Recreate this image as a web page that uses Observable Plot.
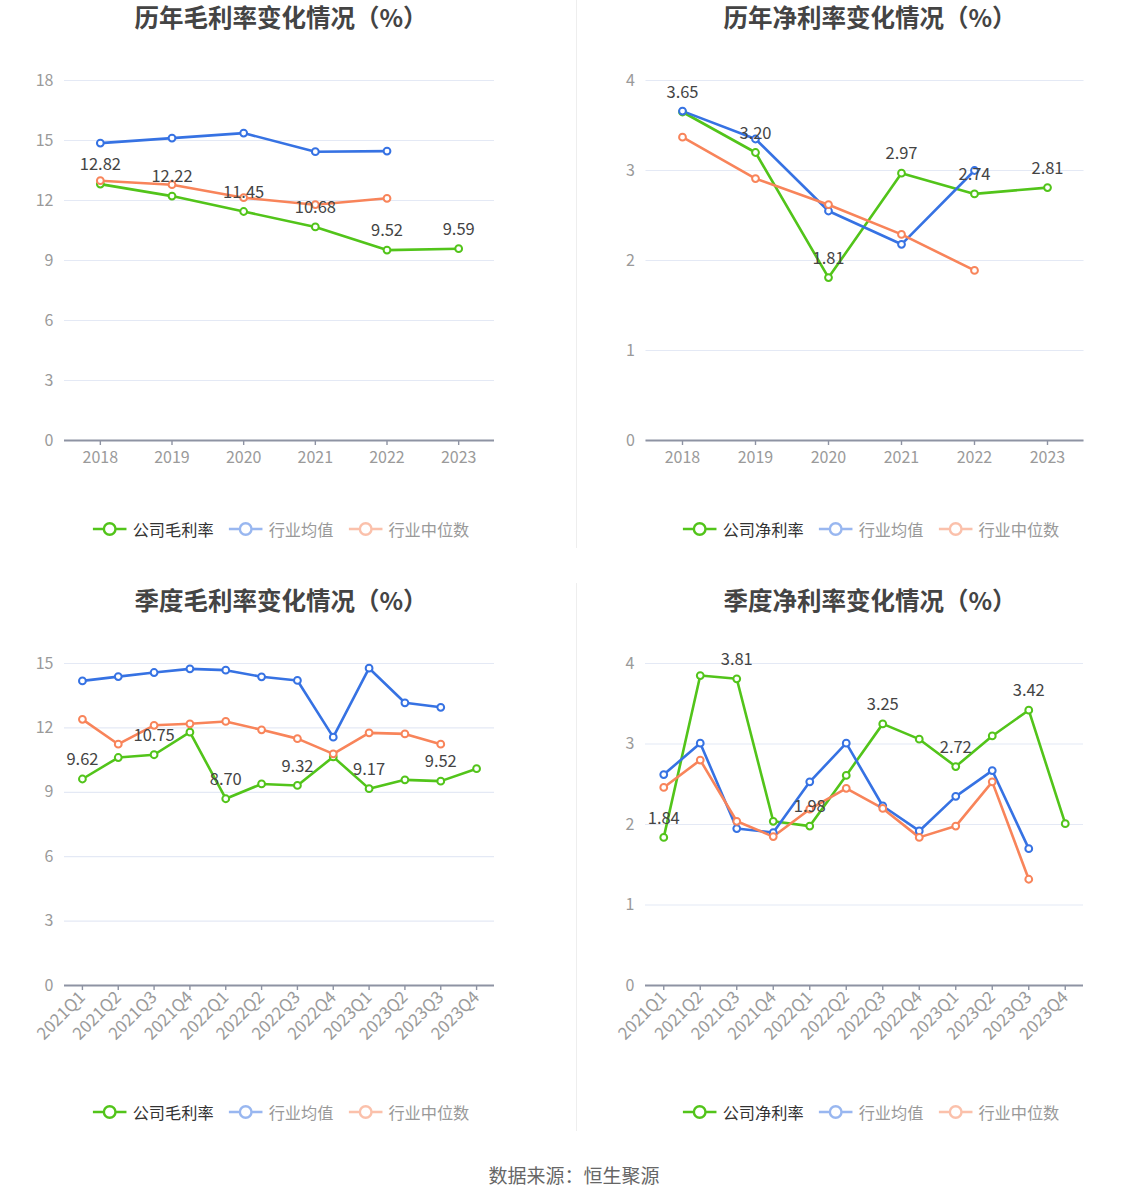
<!DOCTYPE html>
<html>
<head>
<meta charset="utf-8">
<script src="https://cdn.jsdelivr.net/npm/d3@7"></script>
<script src="https://cdn.jsdelivr.net/npm/@observablehq/plot@0.6"></script>
<style>
  html, body { margin: 0; padding: 0; background: #fff; }
  body { width: 1148px; height: 1202px; position: relative; overflow: hidden;
         font-family: "Noto Sans CJK SC", "Noto Sans", sans-serif; }
  .panel { position: absolute; width: 574px; height: 560px; }
  .title { position: absolute; top: 2px; transform: translateX(-50%); white-space: nowrap;
           font-size: 24.5px; font-weight: bold; color: #444; line-height: 30px; }
  .plot { position: absolute; left: 0; top: 40px; }
  .legend { position: absolute; top: 518px; transform: translateX(-50%); white-space: nowrap;
            display: flex; align-items: center; font-size: 16.2px; line-height: 22px; }
  .legend .item { display: flex; align-items: center; margin-right: 15px; }
  .legend .item:last-child { margin-right: 0; }
  .legend svg { margin-right: 6px; }
  .sep { position: absolute; left: 576px; width: 1px; background: #eeeeee; }
  .footer { position: absolute; top: 1161px; left: 574px; transform: translateX(-50%);
            font-size: 19px; color: #666; white-space: nowrap; }
</style>
</head>
<body>
<div id="root"></div>
<script>
// ---------- data ----------
const years = ["2018", "2019", "2020", "2021", "2022", "2023"];
const quarters = ["2021Q1", "2021Q2", "2021Q3", "2021Q4", "2022Q1", "2022Q2", "2022Q3", "2022Q4", "2023Q1", "2023Q2", "2023Q3", "2023Q4"];

const annualGrossCompany = [12.82, 12.22, 11.45, 10.68, 9.52, 9.59];
const annualGrossMean    = [14.87, 15.12, 15.37, 14.44, 14.47, null];
const annualGrossMedian  = [12.99, 12.79, 12.14, 11.79, 12.11, null];

const annualNetCompany = [3.65, 3.20, 1.81, 2.97, 2.74, 2.81];
const annualNetMean    = [3.66, 3.35, 2.55, 2.18, 3.00, null];
const annualNetMedian  = [3.37, 2.91, 2.62, 2.29, 1.89, null];

const quarterGrossCompany = [9.62, 10.62, 10.75, 11.80, 8.70, 9.39, 9.32, 10.65, 9.17, 9.58, 9.52, 10.10];
const quarterGrossMean    = [14.19, 14.39, 14.58, 14.75, 14.69, 14.38, 14.21, 11.57, 14.78, 13.17, 12.96, null];
const quarterGrossMedian  = [12.40, 11.24, 12.12, 12.19, 12.30, 11.91, 11.50, 10.79, 11.77, 11.72, 11.24, null];

const quarterNetCompany = [1.84, 3.85, 3.81, 2.04, 1.98, 2.61, 3.25, 3.06, 2.72, 3.10, 3.42, 2.01];
const quarterNetMean    = [2.62, 3.01, 1.95, 1.90, 2.53, 3.01, 2.23, 1.92, 2.35, 2.67, 1.70, null];
const quarterNetMedian  = [2.46, 2.80, 2.04, 1.85, 2.19, 2.45, 2.20, 1.84, 1.98, 2.53, 1.32, null];

const ticksGross = [0, 3, 6, 9, 12, 15, 18];
const ticksGrossQ = [0, 3, 6, 9, 12, 15];
const ticksNet = [0, 1, 2, 3, 4];

const titles = ["历年毛利率变化情况（%）", "历年净利率变化情况（%）", "季度毛利率变化情况（%）", "季度净利率变化情况（%）"];
const seriesNamesGross = ["公司毛利率", "行业均值", "行业中位数"];
const seriesNamesNet = ["公司净利率", "行业均值", "行业中位数"];
const footerText = "数据来源：恒生聚源";

// ---------- styles ----------
const GREEN = "#52c41a", BLUE = "#3672e3", ORANGE = "#f8845a";
const GRID = "#e4e9f5", AXIS = "#8e93a3", TICKTXT = "#9a9a9a";

function buildPanel(cfg) {
  const { left, top, titleCenter, legendCenter, title, names, cats, company, mean, median,
          yMax, yTicks, mL, mR, plotH, mB, rotate, labelEvery } = cfg;
  const panel = document.createElement("div");
  panel.className = "panel";
  panel.style.left = left + "px";
  panel.style.top = top + "px";

  const t = document.createElement("div");
  t.className = "title";
  t.style.left = titleCenter + "px";
  t.textContent = title;
  panel.appendChild(t);

  const mk = (vals) => vals.map((v, i) => ({ cat: cats[i], value: v, idx: i })).filter(d => d.value != null);
  const cRows = mk(company), mRows = mk(mean), dRows = mk(median);
  const labelRows = cRows.filter(d => d.idx % labelEvery === 0);

  const marginTop = 40;
  const height = marginTop + plotH + mB;
  const lineOpts = (c) => ({ x: "cat", y: "value", stroke: c, strokeWidth: 2.6 });
  const dotOpts = (c) => ({ x: "cat", y: "value", r: 3.4, fill: "white", stroke: c, strokeWidth: 2 });

  const chart = Plot.plot({
    width: 574,
    height,
    marginTop,
    marginBottom: mB,
    marginLeft: mL,
    marginRight: mR,
    style: { fontFamily: '"Noto Sans CJK SC", sans-serif', fontSize: "16px", background: "transparent", overflow: "visible" },
    x: { type: "point", domain: cats, padding: 0.5, round: false, label: null },
    y: { domain: [0, yMax], label: null },
    marks: [
      Plot.gridY(yTicks, { stroke: GRID, strokeOpacity: 1, strokeWidth: 1.2 }),
      Plot.axisY(yTicks, { tickSize: 0, tickPadding: 11, fontSize: 16, fill: TICKTXT, label: null,
                           tickFormat: d => String(d) }),
      Plot.axisX(cats, {
        tickSize: 5, stroke: AXIS, strokeWidth: 1.4, tickPadding: rotate ? 4 : 6,
        fontSize: rotate ? 17 : 16, fill: TICKTXT, label: null,
        tickRotate: rotate ? -45 : 0
      }),
      Plot.ruleY([0], { stroke: AXIS, strokeWidth: 2 }),
      Plot.line(cRows, lineOpts(GREEN)),
      Plot.line(mRows, lineOpts(BLUE)),
      Plot.line(dRows, lineOpts(ORANGE)),
      Plot.dot(cRows, dotOpts(GREEN)),
      Plot.dot(mRows, dotOpts(BLUE)),
      Plot.dot(dRows, dotOpts(ORANGE)),
      Plot.text(labelRows, { x: "cat", y: "value", text: d => d.value.toFixed(2), dy: -19,
                             fontSize: 16.5, fill: "#444" })
    ]
  });
  const holder = document.createElement("div");
  holder.className = "plot";
  holder.appendChild(chart);
  panel.appendChild(holder);

  // legend
  const lg = document.createElement("div");
  lg.className = "legend";
  lg.style.left = legendCenter + "px";
  const items = [
    { name: names[0], color: GREEN, op: 1, txt: "#333" },
    { name: names[1], color: BLUE, op: 0.5, txt: "#999" },
    { name: names[2], color: ORANGE, op: 0.5, txt: "#999" }
  ];
  items.forEach(it => {
    const d = document.createElement("div");
    d.className = "item";
    d.innerHTML = `<svg width="34" height="16" viewBox="0 0 34 16" style="opacity:${it.op}">
        <line x1="0" y1="8" x2="34" y2="8" stroke="${it.color}" stroke-width="2.6"/>
        <circle cx="17" cy="8" r="5.8" fill="white" stroke="${it.color}" stroke-width="2.4"/>
      </svg><span style="color:${it.txt}">${it.name}</span>`;
    lg.appendChild(d);
  });
  panel.appendChild(lg);
  return panel;
}

const root = document.getElementById("root");
root.appendChild(buildPanel({
  left: 0, top: 0, titleCenter: 281, legendCenter: 281, title: titles[0], names: seriesNamesGross,
  cats: years, company: annualGrossCompany, mean: annualGrossMean, median: annualGrossMedian,
  yMax: 18, yTicks: ticksGross, mL: 64, mR: 80, plotH: 360, mB: 60, rotate: false, labelEvery: 1
}));
root.appendChild(buildPanel({
  left: 574, top: 0, titleCenter: 296, legendCenter: 297, title: titles[1], names: seriesNamesNet,
  cats: years, company: annualNetCompany, mean: annualNetMean, median: annualNetMedian,
  yMax: 4, yTicks: ticksNet, mL: 71.5, mR: 64.5, plotH: 360, mB: 60, rotate: false, labelEvery: 1
}));
root.appendChild(buildPanel({
  left: 0, top: 583, titleCenter: 281, legendCenter: 281, title: titles[2], names: seriesNamesGross,
  cats: quarters, company: quarterGrossCompany, mean: quarterGrossMean, median: quarterGrossMedian,
  yMax: 15, yTicks: ticksGrossQ, mL: 64, mR: 80, plotH: 322, mB: 80, rotate: true, labelEvery: 2
}));
root.appendChild(buildPanel({
  left: 574, top: 583, titleCenter: 296, legendCenter: 297, title: titles[3], names: seriesNamesNet,
  cats: quarters, company: quarterNetCompany, mean: quarterNetMean, median: quarterNetMedian,
  yMax: 4, yTicks: ticksNet, mL: 71, mR: 65, plotH: 322, mB: 80, rotate: true, labelEvery: 2
}));

const s1 = document.createElement("div");
s1.className = "sep"; s1.style.top = "0px"; s1.style.height = "548px";
root.appendChild(s1);
const s2 = document.createElement("div");
s2.className = "sep"; s2.style.top = "583px"; s2.style.height = "548px";
root.appendChild(s2);

const f = document.createElement("div");
f.className = "footer";
f.textContent = footerText;
root.appendChild(f);
</script>
</body>
</html>
